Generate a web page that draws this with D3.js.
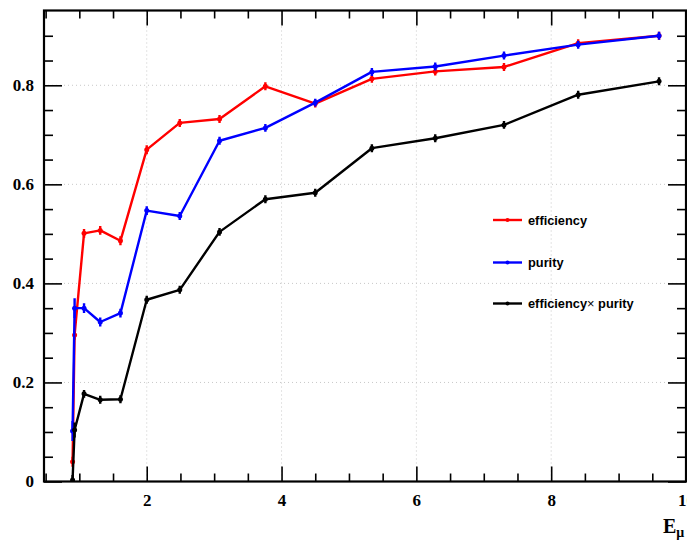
<!DOCTYPE html>
<html>
<head>
<meta charset="utf-8">
<script src="https://cdn.jsdelivr.net/npm/d3@7"></script>
<style>
  html, body { margin: 0; padding: 0; background: #fff; }
  svg { display: block; }
</style>
</head>
<body>
<svg id="chart" width="687" height="544"></svg>
<script>
// Muon energy bin centres
const energy = [0.90, 0.93, 1.07, 1.31, 1.61, 2.00, 2.49, 3.08, 3.76, 4.50, 5.34, 6.28, 7.30, 8.40, 9.60];

// Efficiency
const efficiency    = [0.040, 0.296, 0.501, 0.507, 0.486, 0.670, 0.724, 0.732, 0.798, 0.763, 0.813, 0.828, 0.837, 0.885, 0.900];
const efficiencyErr = [0.010, 0.010, 0.009, 0.009, 0.009, 0.009, 0.008, 0.008, 0.008, 0.008, 0.008, 0.008, 0.008, 0.008, 0.008];

// Purity
const purity    = [0.102, 0.350, 0.350, 0.322, 0.340, 0.547, 0.536, 0.688, 0.714, 0.765, 0.827, 0.838, 0.860, 0.882, 0.900];
const purityErr = [0.020, 0.020, 0.010, 0.009, 0.009, 0.009, 0.008, 0.008, 0.008, 0.008, 0.008, 0.008, 0.008, 0.008, 0.008];

// Efficiency x purity
const product    = [0.003, 0.104, 0.177, 0.165, 0.166, 0.367, 0.387, 0.504, 0.570, 0.583, 0.673, 0.693, 0.720, 0.781, 0.808];
const productErr = [0.010, 0.015, 0.008, 0.008, 0.008, 0.008, 0.008, 0.008, 0.008, 0.008, 0.008, 0.008, 0.008, 0.008, 0.008];

// Axis ticks
const xMajor = [2, 4, 6, 8, 10];
const xMinor = [0.5, 1, 1.5, 2.5, 3, 3.5, 4.5, 5, 5.5, 6.5, 7, 7.5, 8.5, 9, 9.5];
const yMajor = [0, 0.2, 0.4, 0.6, 0.8];
const yMinor = [0.05, 0.1, 0.15, 0.25, 0.3, 0.35, 0.45, 0.5, 0.55, 0.65, 0.7, 0.75, 0.85, 0.9];

const legendLabels = ["efficiency", "purity", "efficiency\u00d7 purity"];
const colors = ["#ff0000", "#0000ff", "#000000"];

const svg = d3.select("#chart");
const L = 44, R = 686, T = 10.5, B = 481.5;

const x = d3.scaleLinear().domain([0.476, 10]).range([L, R]);
const y = d3.scaleLinear().domain([0, 0.951]).range([B, T]);

// Grid
const grid = svg.append("g").attr("stroke", "#c8c8c8").attr("stroke-width", 1).attr("stroke-dasharray", "1,3");
grid.selectAll(".gx").data([2, 4, 6, 8]).join("line")
  .attr("x1", d => x(d)).attr("x2", d => x(d)).attr("y1", T).attr("y2", B);
grid.selectAll(".gy").data([0.2, 0.4, 0.6, 0.8]).join("line")
  .attr("x1", L).attr("x2", R).attr("y1", d => y(d)).attr("y2", d => y(d));

// Axes
const tickFont = "bold 17px 'Liberation Serif', 'Times New Roman', serif";
function styleAxis(g) {
  g.select(".domain").remove();
  g.selectAll(".tick line").attr("stroke", "#000").attr("stroke-width", 1.6);
  g.selectAll(".tick text").style("font", tickFont).attr("fill", "#000");
}
const yFmt = d => d === 0 ? "0" : d3.format(".1f")(d);

svg.append("g").attr("transform", `translate(${L},0)`)
  .call(d3.axisLeft(y).tickValues(yMajor).tickSize(-18).tickPadding(10).tickFormat(yFmt))
  .call(styleAxis);
svg.append("g").attr("transform", `translate(${L},0)`)
  .call(d3.axisLeft(y).tickValues(yMinor).tickSize(-9).tickFormat(""))
  .call(styleAxis);
svg.append("g").attr("transform", `translate(${R},0)`)
  .call(d3.axisRight(y).tickValues(yMajor).tickSize(-18).tickFormat(""))
  .call(styleAxis);
svg.append("g").attr("transform", `translate(${R},0)`)
  .call(d3.axisRight(y).tickValues(yMinor).tickSize(-9).tickFormat(""))
  .call(styleAxis);

svg.append("g").attr("transform", `translate(0,${B})`)
  .call(d3.axisBottom(x).tickValues(xMajor).tickSize(-15).tickPadding(12).tickFormat(d3.format("d")))
  .call(styleAxis);
svg.append("g").attr("transform", `translate(0,${B})`)
  .call(d3.axisBottom(x).tickValues(xMinor).tickSize(-8).tickFormat(""))
  .call(styleAxis);
svg.append("g").attr("transform", `translate(0,${T})`)
  .call(d3.axisTop(x).tickValues(xMajor).tickSize(-15).tickFormat(""))
  .call(styleAxis);
svg.append("g").attr("transform", `translate(0,${T})`)
  .call(d3.axisTop(x).tickValues(xMinor).tickSize(-8).tickFormat(""))
  .call(styleAxis);

// Frame
svg.append("rect").attr("x", L).attr("y", T).attr("width", R - L).attr("height", B - T)
  .attr("fill", "none").attr("stroke", "#000").attr("stroke-width", 2.2);

// Clip data to the frame
svg.append("clipPath").attr("id", "plotclip")
  .append("rect").attr("x", L).attr("y", T).attr("width", R - L).attr("height", B - T);

const series = [
  { vals: efficiency, errs: efficiencyErr, color: colors[0] },
  { vals: purity, errs: purityErr, color: colors[1] },
  { vals: product, errs: productErr, color: colors[2] }
];

const plot = svg.append("g").attr("clip-path", "url(#plotclip)");
const line = d3.line().x(d => x(d.e)).y(d => y(d.v));

series.forEach(s => {
  const pts = energy.map((e, i) => ({ e, v: s.vals[i], err: s.errs[i] }));
  const g = plot.append("g");
  g.append("path").datum(pts).attr("d", line)
    .attr("fill", "none").attr("stroke", s.color).attr("stroke-width", 2.4)
    .attr("stroke-linejoin", "round");
  g.selectAll(".err").data(pts).join("line")
    .attr("x1", d => x(d.e)).attr("x2", d => x(d.e))
    .attr("y1", d => y(d.v - d.err)).attr("y2", d => y(d.v + d.err))
    .attr("stroke", s.color).attr("stroke-width", 2.4);
  g.selectAll(".mk").data(pts).join("circle")
    .attr("cx", d => x(d.e)).attr("cy", d => y(d.v)).attr("r", 2.5)
    .attr("fill", s.color);
});

// Legend
const legY = [220, 262.5, 303.5];
const leg = svg.append("g");
legendLabels.forEach((lab, i) => {
  leg.append("line").attr("x1", 493).attr("x2", 522).attr("y1", legY[i]).attr("y2", legY[i])
    .attr("stroke", colors[i]).attr("stroke-width", 2.4);
  leg.append("circle").attr("cx", 507.5).attr("cy", legY[i]).attr("r", 2).attr("fill", colors[i]);
  const t = leg.append("text").attr("x", 528).attr("y", legY[i] + 4.5)
    .style("font", "bold 12.8px 'Liberation Sans', Arial, sans-serif").attr("fill", "#000");
  if (lab.includes("\u00d7")) {
    const parts = lab.split("\u00d7");
    t.append("tspan").text(parts[0]);
    t.append("tspan").text("\u00d7").style("font-weight", "normal");
    t.append("tspan").text(parts[1]);
  } else {
    t.text(lab);
  }
});

// X axis title
const xt = svg.append("text").attr("x", 663).attr("y", 533)
  .style("font", "bold 20px 'Liberation Serif', 'Times New Roman', serif").attr("fill", "#000");
xt.append("tspan").text("E");
xt.append("tspan").text("\u03bc").attr("dy", 4).style("font-size", "14px");
</script>
</body>
</html>
